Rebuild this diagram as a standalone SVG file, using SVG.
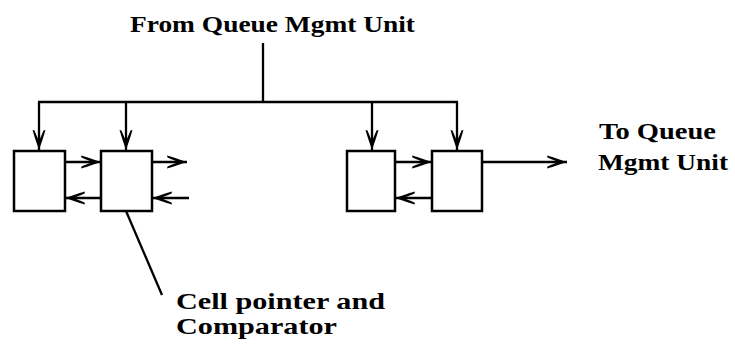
<svg xmlns="http://www.w3.org/2000/svg" width="735" height="344" viewBox="0 0 735 344">
<defs>
<marker id="ah" markerWidth="22" markerHeight="14" viewBox="-21 -7 22 14" refX="0" refY="0" orient="auto" markerUnits="userSpaceOnUse">
<path d="M0,0 C-6,-2 -13,-4.5 -20,-6.5 L-19.5,-4.5 C-15,-2.5 -11,-1.2 -10,0 C-11,1.2 -15,2.5 -19.5,4.5 L-20,6.5 C-13,4.5 -6,2 0,0 Z" fill="#000"/>
</marker>
<style>
.ln{stroke:#000;stroke-width:2.3;fill:none}
.ar{stroke:#000;stroke-width:2.3;fill:none;marker-end:url(#ah)}
.bx{stroke:#000;stroke-width:2.5;fill:#fff}
.t{font-family:"Liberation Serif","DejaVu Serif",serif;font-weight:bold;font-size:23px;fill:#000}
</style>
</defs>
<rect width="735" height="344" fill="#fff"/>
<g id="connectors">
<line class="ln" x1="263" y1="43" x2="263" y2="102"/>
<line class="ln" x1="38" y1="102" x2="458" y2="102"/>
<line class="ar" x1="39" y1="102" x2="39" y2="150"/>
<line class="ar" x1="126" y1="102" x2="126" y2="150"/>
<line class="ar" x1="372" y1="102" x2="372" y2="150"/>
<line class="ar" x1="457" y1="102" x2="457" y2="150"/>
<line class="ar" x1="65" y1="162" x2="101" y2="162"/>
<line class="ar" x1="101" y1="198" x2="65" y2="198"/>
<line class="ar" x1="152" y1="162" x2="187" y2="162"/>
<line class="ar" x1="189" y1="198" x2="152" y2="198"/>
<line class="ar" x1="395" y1="162" x2="432" y2="162"/>
<line class="ar" x1="432" y1="198" x2="395" y2="198"/>
<line class="ar" x1="482" y1="162" x2="567" y2="162"/>
<line class="ln" x1="126" y1="211" x2="162" y2="295"/>
</g>
<g id="box1"><rect class="bx" x="14" y="151" width="51" height="60"/></g>
<g id="box2"><rect class="bx" x="101" y="151" width="51" height="60"/></g>
<g id="box3"><rect class="bx" x="347" y="151" width="48" height="60"/></g>
<g id="box4"><rect class="bx" x="432" y="151" width="50" height="60"/></g>
<g id="labels">
<text class="t" x="130" y="32" textLength="285" lengthAdjust="spacingAndGlyphs">From Queue Mgmt Unit</text>
<text class="t" x="599" y="139" textLength="117" lengthAdjust="spacingAndGlyphs">To Queue</text>
<text class="t" x="598" y="170" textLength="130" lengthAdjust="spacingAndGlyphs">Mgmt Unit</text>
<text class="t" x="176" y="309" textLength="209" lengthAdjust="spacingAndGlyphs">Cell pointer and</text>
<text class="t" x="176" y="334" textLength="161" lengthAdjust="spacingAndGlyphs">Comparator</text>
</g>
</svg>
